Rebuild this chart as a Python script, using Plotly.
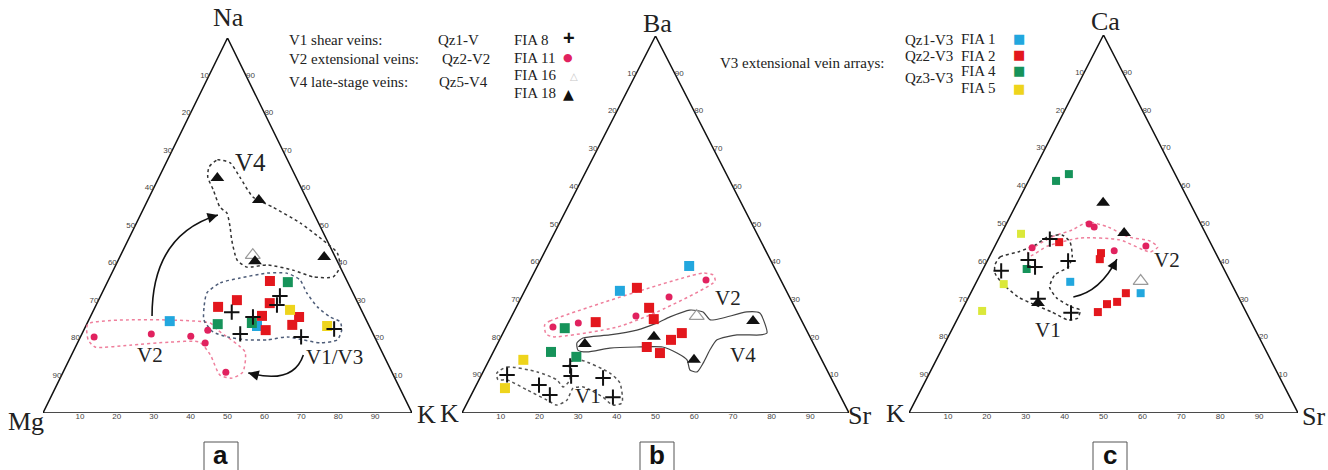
import plotly.graph_objects as go

W, H = 1328, 470

# ---------------------------------------------------------------------------
# Compositions in %, each point given as (top, left, right)
# Panel a: Na (top) - Mg (left) - K (right)
a_fia8 = [(31.2, 20.2, 48.6), (28.8, 22.2, 49.0), (26.9, 35.4, 37.7), (25.6, 30.3, 44.1),
          (21.1, 36.0, 42.9), (20.3, 19.9, 59.8), (22.4, 9.9, 67.7)]
a_fia11 = [(20.3, 76.0, 3.7), (21.1, 60.1, 18.8), (20.5, 49.7, 29.8), (22.1, 44.3, 33.6),
           (18.7, 46.7, 34.6), (10.9, 45.0, 44.1)]
a_fia16 = [(42.1, 22.1, 35.8)]
a_fia18 = [(62.7, 21.4, 15.9), (56.8, 13.1, 30.1), (40.5, 22.3, 37.2), (41.6, 3.0, 55.4)]
a_fia1 = [(24.5, 53.4, 22.1), (23.2, 30.4, 46.4)]
a_fia2 = [(35.2, 20.9, 43.9), (30.1, 32.4, 37.5), (28.3, 38.4, 33.3), (29.3, 23.9, 46.8),
          (25.9, 27.7, 46.4), (25.6, 17.8, 56.6), (23.5, 20.7, 55.8), (22.1, 28.6, 49.3)]
a_fia4 = [(34.9, 16.2, 48.9), (23.7, 40.8, 35.5), (24.0, 31.4, 44.6)]
a_fia5 = [(27.5, 19.3, 53.2), (23.2, 11.4, 65.4)]

# Panel b: Ba (top) - K (left) - Sr (right)
b_fia8 = [(10.1, 83.3, 6.6), (12.5, 65.8, 21.7), (9.8, 66.9, 23.3), (9.3, 58.9, 31.8),
          (7.4, 76.4, 16.2), (4.8, 74.9, 20.3), (4.2, 58.9, 36.9)]
b_fia11 = [(35.3, 19.3, 45.4), (30.8, 31.1, 38.1), (25.7, 42.2, 32.1), (23.9, 58.0, 18.1),
           (22.8, 65.1, 12.1)]
b_fia16 = [(25.7, 26.5, 47.8)]
b_fia18 = [(18.3, 59.1, 22.6), (20.2, 40.3, 39.5), (24.4, 12.6, 63.0), (14.1, 33.0, 52.9)]
b_fia1 = [(39.0, 21.8, 39.2), (32.4, 43.0, 24.6)]
b_fia2 = [(33.2, 38.2, 28.6), (27.9, 37.7, 34.4), (24.9, 38.0, 37.1), (24.1, 53.4, 22.5),
          (21.2, 32.6, 46.2), (19.4, 36.3, 44.3), (17.5, 43.5, 39.0), (15.9, 40.9, 43.2)]
b_fia4 = [(22.5, 62.2, 15.3), (16.2, 68.9, 14.9), (14.9, 63.0, 22.1)]
b_fia5 = [(14.1, 77.1, 8.8), (6.6, 85.6, 7.8)]

# Panel c: Ca (top) - K (left) - Sr (right)
c_fia8 = [(46.0, 40.8, 13.2), (40.5, 49.1, 10.4), (38.6, 48.3, 13.1), (37.6, 57.5, 4.9),
          (40.2, 39.0, 20.8), (30.2, 51.7, 18.1), (26.5, 45.1, 28.4)]
c_fia11 = [(50.0, 28.7, 21.3), (49.2, 27.8, 23.0), (43.7, 46.5, 9.8), (42.9, 25.8, 31.3),
           (44.2, 17.0, 38.8)]
c_fia16 = [(34.9, 23.0, 42.1)]
c_fia18 = [(55.6, 22.3, 22.1), (47.6, 20.9, 31.5), (29.1, 52.3, 18.6)]
c_fia1 = [(34.7, 41.2, 24.1), (31.7, 24.6, 43.7)]
c_fia2 = [(45.2, 38.8, 16.0), (42.3, 29.5, 28.2), (40.7, 30.6, 28.7), (31.7, 28.4, 39.9),
          (29.4, 31.8, 38.8), (28.8, 34.7, 36.5), (26.7, 38.1, 35.2)]
c_fia4 = [(61.4, 31.5, 7.1), (63.2, 27.3, 9.5), (38.1, 50.7, 11.2)]
c_fia5 = [(47.4, 47.5, 5.1), (34.1, 58.6, 7.3), (27.0, 67.7, 5.3)]

# Field boundaries, vertices as (top %, right %)
a_v4_field = [(65.6, 12.2), (67.5, 13.5), (66.7, 17.4), (62.9, 21.9), (57.6, 28.1), (54.9, 34.8),
              (50.7, 44.3), (46.1, 52.8), (42.7, 58.4), (38.9, 61.0), (36.3, 60.5), (36.3, 55.1),
              (38.1, 48.7), (39.5, 41.0), (38.9, 35.8), (40.8, 32.2), (46.1, 28.1), (49.6, 25.9),
              (53.3, 23.2), (54.9, 20.5), (59.5, 16.4), (62.9, 13.2)]
a_v13_field = [(32.0, 28.4), (34.7, 30.7), (36.0, 35.4), (37.3, 42.0), (37.3, 47.4), (35.5, 51.9),
               (32.0, 55.5), (28.3, 60.2), (25.6, 65.0), (24.3, 68.4), (22.1, 69.9), (19.5, 70.0),
               (18.7, 65.8), (19.5, 60.8), (20.3, 56.0), (19.5, 51.0), (19.5, 45.6), (20.3, 39.8),
               (21.6, 35.3), (24.8, 31.2), (28.3, 29.5)]
a_v2_field = [(23.7, 0.3), (24.0, 33.3), (22.1, 36.3), (16.3, 46.6), (10.9, 48.7), (9.3, 46.5),
              (10.1, 42.9), (15.5, 37.6), (18.9, 33.0), (18.9, 24.9), (18.1, 14.5), (17.6, 5.3),
              (19.5, 2.5)]
b_v2_field = [(23.3, 9.7), (24.4, 10.5), (37.1, 43.7), (36.6, 46.6), (35.0, 47.9), (26.8, 37.0),
              (22.8, 28.7), (20.2, 13.4), (21.0, 11.2)]
b_v4_field = [(18.6, 20.4), (19.9, 21.3), (20.7, 27.8), (22.0, 34.2), (23.9, 38.5), (25.5, 41.0),
              (27.3, 45.2), (26.8, 48.9), (24.7, 51.8), (25.2, 54.8), (26.8, 60.2), (26.5, 63.7),
              (21.2, 68.2), (20.7, 66.6), (20.7, 60.7), (19.4, 56.2), (16.7, 55.7), (13.3, 55.7),
              (10.9, 55.3), (11.4, 53.2), (14.1, 51.1), (15.9, 47.6), (17.5, 43.1), (17.5, 36.4),
              (17.2, 29.6), (16.2, 24.2), (16.7, 21.6)]
b_v1_field = [(10.6, 3.7), (12.2, 5.5), (10.9, 14.0), (8.8, 20.1), (6.9, 22.7), (8.8, 23.5),
              (13.5, 21.1), (14.1, 23.5), (10.6, 32.9), (8.0, 36.8), (2.7, 40.0), (2.1, 37.9),
              (4.2, 34.3), (6.9, 27.9), (6.6, 25.4), (3.4, 25.4), (2.1, 23.4), (3.4, 20.3),
              (6.1, 13.8), (8.8, 7.2), (8.8, 4.9)]
c_v1_field = [(39.2, 2.5), (41.3, 2.8), (42.6, 6.7), (44.4, 10.2), (46.6, 12.4), (47.1, 15.8),
              (45.2, 18.8), (41.3, 21.3), (38.6, 21.6), (36.5, 19.2), (33.3, 19.5), (30.4, 22.8),
              (28.0, 27.9), (27.2, 30.4), (25.1, 30.8), (24.6, 28.6), (26.7, 23.4), (28.6, 18.1),
              (30.7, 12.7), (34.4, 6.7), (37.0, 3.6)]
c_v2_field = [(42.6, 9.3), (46.6, 13.5), (48.4, 17.7), (50.5, 20.7), (49.2, 26.6), (46.6, 33.0),
              (45.5, 39.2), (43.9, 42.0), (42.6, 40.7), (45.8, 31.3), (46.3, 20.9), (44.2, 13.6),
              (41.5, 10.3)]

# Trend arrows: start, bend, end as (top %, right %)
a_arrow_up = [(25.9, 16.6), (47.5, 5.8), (52.8, 21.0)]
a_arrow_back = [(15.5, 62.8), (7.5, 64.1), (10.7, 50.3)]
c_arrow = [(30.7, 26.9), (32.0, 33.1), (40.7, 33.1)]

TICKS = [10, 20, 30, 40, 50, 60, 70, 80, 90]

# ---------------------------------------------------------------------------
SERIF = "Liberation Serif"
SANS = "Liberation Sans"
COL = {
    "fia1": "#22a7de", "fia2": "#e3171d", "fia4": "#16935a", "fia5": "#eed41c",
    "fia11": "#e1225f", "fia16": "#9a9a9a", "fia18": "#111111", "fia8": "#111111",
}
PINK = "#ef7f9c"


def cart(top, right):
    """Ternary (top, right) in % -> x, y in a 0-100 frame."""
    return right + top / 2.0, top


def pts_xy(points):
    xs, ys = [], []
    for top, _left, right in points:
        x, y = cart(top, right)
        xs.append(x)
        ys.append(y)
    return xs, ys


def ring_xy(vertices):
    xs, ys = [], []
    for top, right in list(vertices) + [vertices[0]]:
        x, y = cart(top, right)
        xs.append(x)
        ys.append(y)
    return xs, ys


fig = go.Figure()

# panel frames in pixels: (left, right, base, apex)
frames = [(43, 412, 413, 38), (462, 849, 413, 36), (909, 1298, 413, 35)]
axes = [("x", "y"), ("x2", "y2"), ("x3", "y3")]

layout_axes = {}
for i, ((l, r, base, apex), (xa, ya)) in enumerate(zip(frames, axes)):
    xkey = "xaxis" if i == 0 else f"xaxis{i + 1}"
    ykey = "yaxis" if i == 0 else f"yaxis{i + 1}"
    layout_axes[xkey] = dict(domain=[l / W, r / W], range=[0, 100], visible=False,
                             fixedrange=True, anchor=ya)
    layout_axes[ykey] = dict(domain=[(H - base) / H, (H - apex) / H], range=[0, 100],
                             visible=False, fixedrange=True, anchor=xa)


def add_frame(xa, ya):
    corners = [(100, 0, 0), (0, 100, 0), (0, 0, 100), (100, 0, 0)]
    xs, ys = pts_xy(corners)
    fig.add_trace(go.Scatter(x=xs, y=ys, mode="lines", line=dict(color="#111", width=1.5),
                             xaxis=xa, yaxis=ya, hoverinfo="skip", showlegend=False,
                             cliponaxis=False))
    tick_font = dict(family=SANS, size=8, color="#444")
    # left edge: labelled with the left component
    lx, ly = zip(*[cart(t, 0) for t in TICKS])
    fig.add_trace(go.Scatter(x=lx, y=ly, mode="text", text=[str(100 - t) for t in TICKS],
                             textposition="middle left", textfont=tick_font, xaxis=xa, yaxis=ya,
                             hoverinfo="skip", showlegend=False, cliponaxis=False))
    # right edge: labelled with the top component
    rx, ry = zip(*[cart(t, 100 - t) for t in TICKS])
    fig.add_trace(go.Scatter(x=rx, y=ry, mode="text", text=[str(t) for t in TICKS],
                             textposition="middle right", textfont=tick_font, xaxis=xa, yaxis=ya,
                             hoverinfo="skip", showlegend=False, cliponaxis=False))
    # base: labelled with the right component
    bx, by = zip(*[cart(0, t) for t in TICKS])
    fig.add_trace(go.Scatter(x=bx, y=by, mode="text", text=[str(t) for t in TICKS],
                             textposition="bottom center", textfont=tick_font, xaxis=xa,
                             yaxis=ya, hoverinfo="skip", showlegend=False, cliponaxis=False))


def add_field(vertices, xa, ya, color, dash="dot", width=1.5):
    xs, ys = ring_xy(vertices)
    fig.add_trace(go.Scatter(x=xs, y=ys, mode="lines", line=dict(color=color, width=width,
                             dash=dash, shape="spline", smoothing=0.6),
                             xaxis=xa, yaxis=ya, hoverinfo="skip", showlegend=False,
                             cliponaxis=False))


def add_points(points, xa, ya, symbol, color, size, line_w=0, line_c=None):
    xs, ys = pts_xy(points)
    marker = dict(symbol=symbol, color=color, size=size)
    if line_w:
        marker["line"] = dict(width=line_w, color=line_c or color)
    else:
        marker["line"] = dict(width=0)
    fig.add_trace(go.Scatter(x=xs, y=ys, mode="markers", marker=marker, xaxis=xa, yaxis=ya,
                             hoverinfo="skip", showlegend=False, cliponaxis=False))


def add_series(sets, xa, ya, sq=10, yellow=None):
    fia8, fia11, fia16, fia18, fia1, fia2, fia4, fia5 = sets
    add_points(fia1, xa, ya, "square", COL["fia1"], sq)
    add_points(fia2, xa, ya, "square", COL["fia2"], sq)
    add_points(fia4, xa, ya, "square", COL["fia4"], sq)
    add_points(fia5, xa, ya, "square", yellow or COL["fia5"], sq)
    add_points(fia11, xa, ya, "circle", COL["fia11"], 7)
    add_points(fia16, xa, ya, "triangle-up-open", COL["fia16"], 13, 1.2, COL["fia16"])
    add_points(fia18, xa, ya, "triangle-up", COL["fia18"], 12)
    add_points(fia8, xa, ya, "cross-thin", COL["fia8"], 11, 2, COL["fia8"])


shapes = []
annotations = []


def add_arrow(ctrl, xa, ya):
    (x0, y0), (cx, cy), (x1, y1) = [cart(t, r) for t, r in ctrl]
    shapes.append(dict(type="path", xref=xa, yref=ya,
                       path=f"M {x0:.2f},{y0:.2f} Q {cx:.2f},{cy:.2f} {x1:.2f},{y1:.2f}",
                       line=dict(color="#111", width=1.6)))
    k = 0.12
    annotations.append(dict(x=x1, y=y1, ax=x1 - k * (x1 - cx), ay=y1 - k * (y1 - cy),
                            xref=xa, yref=ya, axref=xa, ayref=ya, text="", showarrow=True,
                            arrowhead=2, arrowsize=1.3, arrowwidth=1.6, arrowcolor="#111"))


# ---- panel a
add_frame("x", "y")
add_field(a_v2_field, "x", "y", PINK)
add_field(a_v13_field, "x", "y", "#4d5c78")
add_field(a_v4_field, "x", "y", "#333333")
add_series([a_fia8, a_fia11, a_fia16, a_fia18, a_fia1, a_fia2, a_fia4, a_fia5], "x", "y", 10)
add_arrow(a_arrow_up, "x", "y")
add_arrow(a_arrow_back, "x", "y")

# ---- panel b
add_frame("x2", "y2")
add_field(b_v2_field, "x2", "y2", PINK)
add_field(b_v4_field, "x2", "y2", "#444444", dash="solid", width=1.2)
add_field(b_v1_field, "x2", "y2", "#555555")
add_series([b_fia8, b_fia11, b_fia16, b_fia18, b_fia1, b_fia2, b_fia4, b_fia5], "x2", "y2", 10)

# ---- panel c
add_frame("x3", "y3")
add_field(c_v2_field, "x3", "y3", PINK)
add_field(c_v1_field, "x3", "y3", "#333333")
add_series([c_fia8, c_fia11, c_fia16, c_fia18, c_fia1, c_fia2, c_fia4, c_fia5], "x3", "y3", 8,
           yellow="#dbe83a")
add_arrow(c_arrow, "x3", "y3")


# ---- field names
def field_label(text, x, y, xa, ya, size=21):
    annotations.append(dict(x=x, y=y, xref=xa, yref=ya, text=text, showarrow=False,
                            font=dict(family=SERIF, size=size, color="#222")))


field_label("V4", 56.1, 66.7, "x", "y", 25)
field_label("V2", 29.0, 15.5, "x", "y")
field_label("V1/V3", 79.1, 14.9, "x", "y")
field_label("V2", 68.7, 30.5, "x2", "y2")
field_label("V4", 72.6, 15.4, "x2", "y2")
field_label("V1", 32.5, 4.6, "x2", "y2")
field_label("V1", 35.7, 22.0, "x3", "y3")
field_label("V2", 66.3, 40.5, "x3", "y3")


# ---- apex names and text blocks in pixel positions
def ptext(text, px, py, size=15, anchor="left", family=SERIF, color="#222", bold=False):
    annotations.append(dict(x=px / W, y=1 - py / H, xref="paper", yref="paper",
                            text=f"<b>{text}</b>" if bold else text, showarrow=False,
                            xanchor=anchor, yanchor="middle",
                            font=dict(family=family, size=size, color=color)))


for name, px, py in [("Na", 228, 18), ("Mg", 26, 421), ("K", 426, 414),
                     ("Ba", 657, 24), ("K", 449, 413), ("Sr", 859, 415),
                     ("Ca", 1105, 22), ("K", 896, 413), ("Sr", 1313, 416)]:
    ptext(name, px, py, size=26, anchor="center")

ptext("V1 shear veins:", 287, 40)
ptext("V2 extensional veins:", 287, 59)
ptext("V4 late-stage veins:", 287, 82)
ptext("Qz1-V", 436, 40)
ptext("Qz2-V2", 440, 59)
ptext("Qz5-V4", 437, 82)
ptext("FIA 8", 512, 40)
ptext("FIA 11", 512, 58)
ptext("FIA 16", 512, 75)
ptext("FIA 18", 512, 93)
ptext("+", 569, 38, size=20, anchor="center", family=SANS, color="#111", bold=True)
ptext("●", 568, 57, size=11, anchor="center", family="DejaVu Sans", color=COL["fia11"])
ptext("△", 574, 76, size=10, anchor="center", family="DejaVu Sans", color="#c8c8c8")
ptext("▲", 568, 94, size=14, anchor="center", family="DejaVu Sans", color="#111")

ptext("V3 extensional vein arrays:", 718, 63)
ptext("Qz1-V3", 903, 40)
ptext("Qz2-V3", 903, 56)
ptext("Qz3-V3", 903, 78)
ptext("FIA 1", 959, 39)
ptext("FIA 2", 959, 56)
ptext("FIA 4", 959, 71)
ptext("FIA 5", 959, 88)
for key, py in [("fia1", 38), ("fia2", 54), ("fia4", 71), ("fia5", 88)]:
    ptext("■", 1019, py, size=13, anchor="center", family="DejaVu Sans", color=COL[key])

# panel letters in open boxes
for letter, px in [("a", 221), ("b", 657), ("c", 1110)]:
    shapes.append(dict(type="rect", xref="paper", yref="paper",
                       x0=(px - 17) / W, x1=(px + 17) / W, y0=1 - 478 / H, y1=1 - 442 / H,
                       line=dict(color="#555", width=1), fillcolor="white", layer="below"))
    ptext(f"<b>{letter}</b>", px, 455, size=26, anchor="center", family=SANS, color="#111")

fig.update_layout(
    width=W, height=H, margin=dict(l=0, r=0, t=0, b=0),
    paper_bgcolor="white", plot_bgcolor="rgba(0,0,0,0)",
    showlegend=False, shapes=shapes, annotations=annotations,
    **layout_axes,
)

fig.write_html("out.html")
